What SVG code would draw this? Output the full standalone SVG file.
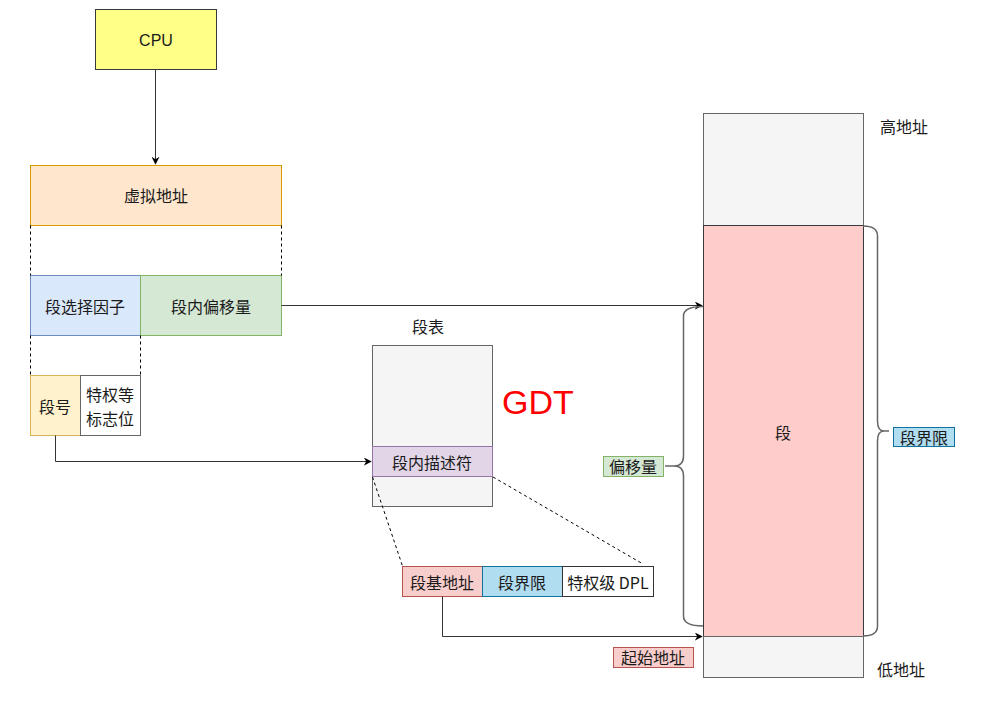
<svg xmlns="http://www.w3.org/2000/svg" width="987" height="717" viewBox="0 0 987 717">
<defs>
<marker id="arr" viewBox="0 0 10 10" refX="9" refY="5" markerWidth="8" markerHeight="8" orient="auto" markerUnits="userSpaceOnUse">
<path d="M0,0 L10,5 L0,10 L3,5 Z" fill="#000"/>
</marker>
<style>
text{font-family:"Noto Sans CJK SC","Liberation Sans",sans-serif;font-size:16px;fill:#1a1a1a;text-anchor:middle;dominant-baseline:central}
.conn{fill:none;stroke:#333;stroke-width:1}
.dot{fill:none;stroke:#000;stroke-width:1;stroke-dasharray:3 3}
.brace{fill:none;stroke:#666;stroke-width:1.5}
</style>
</defs>
<rect width="987" height="717" fill="#fff"/>
<g id="cpu"><rect x="95.5" y="9.5" width="121" height="60" fill="#ffff88" stroke="#36393d"/><text x="156" y="40" style="font-family:'Liberation Sans',sans-serif;font-size:16px">CPU</text></g>
<g id="vaddr"><rect x="30.5" y="165.5" width="251" height="60" fill="#ffe6cc" stroke="#d79b00"/><text x="156" y="195">虚拟地址</text></g>
<g id="selector"><rect x="30.5" y="275.5" width="110" height="60" fill="#dae8fc" stroke="#6c8ebf"/><text x="85" y="306">段选择因子</text></g>
<g id="offset"><rect x="140.5" y="275.5" width="141" height="60" fill="#d5e8d4" stroke="#82b366"/><text x="211" y="306">段内偏移量</text></g>
<g id="segno"><rect x="30.5" y="375.5" width="50" height="60" fill="#fff2cc" stroke="#d6b656"/><text x="55" y="406">段号</text></g>
<g id="flags"><rect x="80.5" y="375.5" width="60" height="60" fill="#fff" stroke="#666"/><text x="110" y="394">特权等</text><text x="110" y="417.5">标志位</text></g>
<g id="table-label"><text x="428" y="326">段表</text></g>
<g id="table"><rect x="372.5" y="345.5" width="120" height="161" fill="#f5f5f5" stroke="#666"/></g>
<g id="descriptor"><rect x="372.5" y="446.5" width="120" height="30" fill="#e1d5e7" stroke="#9673a6"/><text x="432" y="462">段内描述符</text></g>
<g id="gdt"><text x="538" y="402" style="font-family:'Liberation Sans',sans-serif;font-size:34px;fill:#ff0000">GDT</text></g>
<g id="base"><rect x="402.5" y="566.5" width="80" height="30" fill="#f8cecc" stroke="#b85450"/><text x="442" y="582">段基地址</text></g>
<g id="limit"><rect x="482.5" y="566.5" width="80" height="30" fill="#b1ddf0" stroke="#10739e"/><text x="522" y="582">段界限</text></g>
<g id="dpl"><rect x="562.5" y="566.5" width="91" height="30" fill="#fff" stroke="#333"/><text x="608" y="582">特权级 DPL</text></g>
<g id="mem-high"><rect x="703.5" y="113.5" width="160" height="112" fill="#f5f5f5" stroke="#666"/></g>
<g id="segment"><rect x="703.5" y="225.5" width="160" height="411" fill="#ffcccc" stroke="#36393d"/><text x="783" y="432">段</text></g>
<g id="mem-low"><rect x="703.5" y="636.5" width="160" height="41" fill="#f5f5f5" stroke="#666"/></g>
<g id="high-label"><text x="904" y="126">高地址</text></g>
<g id="low-label"><text x="901" y="669">低地址</text></g>
<g id="offset-label"><rect x="603.5" y="456.5" width="60" height="20" fill="#d5e8d4" stroke="#82b366"/><text x="633" y="466">偏移量</text></g>
<g id="limit-label"><rect x="893.5" y="427.5" width="61" height="19" fill="#b1ddf0" stroke="#10739e"/><text x="924" y="437">段界限</text></g>
<g id="start-label"><rect x="613.5" y="647.5" width="80" height="20" fill="#f8cecc" stroke="#b85450"/><text x="653" y="657">起始地址</text></g>
<g id="connectors">
<path class="conn" d="M155.5,69.5 L155.5,164" marker-end="url(#arr)"/>
<path class="dot" d="M30.5,225.5 L30.5,275.5 M281.5,225.5 L281.5,275.5 M30.5,335.5 L30.5,375.5 M140.5,335.5 L140.5,375.5"/>
<path class="conn" d="M281.5,305.5 L702,305.5" marker-end="url(#arr)"/>
<path class="conn" d="M55.5,435.5 L55.5,461.5 L371,461.5" marker-end="url(#arr)"/>
<path class="dot" d="M372.5,477 L402.5,566 M493,477 L643,564"/>
<path class="conn" d="M442.5,596.5 L442.5,636.5 L702,636.5" marker-end="url(#arr)"/>
<path class="brace" d="M703,306.5 Q683.5,306.5 683.5,316 L683.5,456 Q683.5,466 674,466 Q683.5,466 683.5,476 L683.5,616 Q683.5,626 703,626"/>
<path class="brace" d="M674,466 L665,466"/>
<path class="brace" d="M863,226 Q877.5,226 877.5,236 L877.5,421 Q877.5,431 884,431 Q877.5,431 877.5,441 L877.5,626 Q877.5,636 863,636"/>
<path class="brace" d="M884,431 L889,431"/>
</g>
</svg>
